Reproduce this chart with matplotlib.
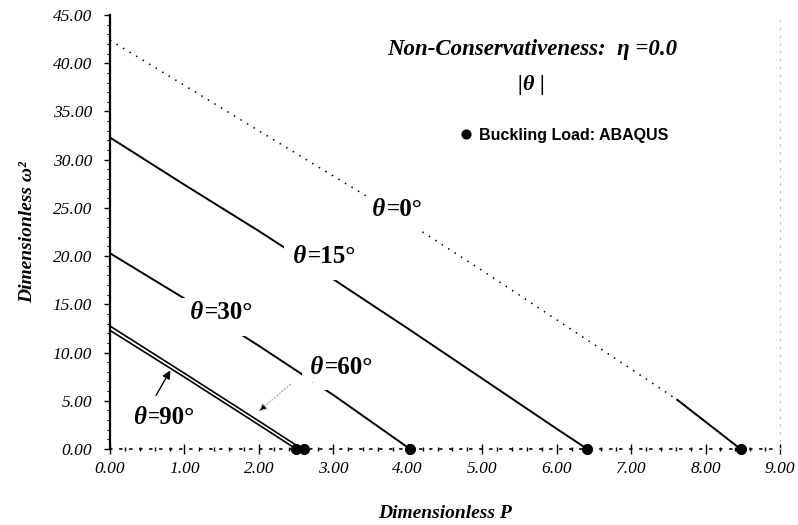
import numpy as np
import matplotlib.pyplot as plt
from matplotlib.ticker import MultipleLocator

# curves: dimensionless P vs dimensionless omega^2
p_0 = [0.0, 1.0, 2.0, 3.0, 3.43, 4.0, 5.0, 6.0, 7.0, 7.62, 8.47]
w_0 = [42.4, 37.7, 33.0, 28.3, 26.3, 23.5, 18.5, 13.4, 8.3, 5.1, 0.0]
p_15 = [0.0, 1.0, 2.0, 3.0, 4.0, 5.0, 6.0, 6.41]
w_15 = [32.3, 27.4, 22.6, 17.6, 12.5, 7.3, 2.1, 0.0]
p_30 = [0.0, 1.0, 2.0, 3.0, 4.03]
w_30 = [20.3, 15.6, 10.7, 5.6, 0.0]
p_60 = [0.0, 1.0, 2.0, 2.58]
w_60 = [12.75, 7.85, 2.9, 0.0]
p_90 = [0.0, 1.0, 2.0, 2.5]
w_90 = [12.3, 7.45, 2.5, 0.0]

# ABAQUS buckling loads
buckling_p = [2.5, 2.6, 4.03, 6.41, 8.47]
buckling_w = [0.0, 0.0, 0.0, 0.0, 0.0]

x_ticks = np.arange(0, 9.01, 1.0)
y_ticks = np.arange(0, 45.01, 5.0)

serif = 'Liberation Serif'
plt.rcParams['font.family'] = serif

fig = plt.figure(figsize=(7.98, 5.25), dpi=100)
ax = fig.add_axes([0.1378, 0.1448, 0.8396, 0.8266])

# theta = 0: dotted, last bit solid
ax.plot(p_0, w_0, color='black', lw=1.1, ls=(0, (1, 4)), zorder=2)
ax.plot(p_0[-2:], w_0[-2:], color='black', lw=1.4, zorder=2)
ax.plot(p_15, w_15, color='black', lw=1.4, zorder=2)
ax.plot(p_30, w_30, color='black', lw=1.4, zorder=2)
ax.plot(p_60, w_60, color='black', lw=1.2, zorder=2)
ax.plot(p_90, w_90, color='black', lw=1.2, zorder=2)

ax.plot(buckling_p, buckling_w, 'o', color='black', ms=7, clip_on=False,
        zorder=5, label='Buckling Load: ABAQUS')

# curve labels: theta italic, rest bold upright; white boxes cut the curve
def curve_label(x, y, txt, pad=4, lead=' '):
    t1 = ax.text(x, y, lead + u'\u03b8', fontsize=18, fontweight='bold',
                 style='italic', ha='left', va='center', zorder=4,
                 bbox=dict(facecolor='white', edgecolor='none', pad=2))
    ax.annotate(txt, xy=(1, 0.5), xycoords=t1, fontsize=18,
                fontweight='bold', ha='left', va='center', zorder=3,
                bbox=dict(facecolor='white', edgecolor='none', pad=pad))

curve_label(3.44, 24.8, '=0\u00b0', pad=7)
curve_label(2.38, 20.0, '=15\u00b0', pad=9)
curve_label(1.0, 14.2, '=30\u00b0', pad=9)
curve_label(2.61, 8.4, '=60\u00b0', pad=8)
curve_label(0.31, 3.3, '=90\u00b0', pad=1, lead='')

# arrows to the 90 and 60 deg curves
ax.annotate('', xy=(0.83, 8.4), xytext=(0.6, 5.3),
            arrowprops=dict(arrowstyle='-|>', color='black', lw=1.0,
                            mutation_scale=12))
ax.annotate('', xy=(1.97, 3.7), xytext=(2.45, 6.9),
            arrowprops=dict(arrowstyle='-|>', color='#aaaaaa', lw=0.9,
                            ls=':', mutation_scale=12, ec='#aaaaaa',
                            fc='black'))

# header texts
ax.text(5.67, 41.4, u'Non-Conservativeness:  \u03b7 =0.0', fontsize=16.5,
        fontweight='bold', style='italic', ha='center', va='center')
ax.text(5.66, 37.7, u'|\u03b8 |', fontsize=16, fontweight='bold',
        style='italic', ha='center', va='center')
leg = ax.legend(loc='center left', bbox_to_anchor=(0.515, 0.723),
                frameon=False, handlelength=0.6, handletextpad=0.5,
                markerscale=0.9, borderaxespad=0,
                prop={'family': 'Liberation Sans', 'weight': 'bold',
                      'size': 11.5})

ax.set_xlim(0, 9)
ax.set_ylim(0, 45)
ax.set_xticks(x_ticks)
ax.set_yticks(y_ticks)
ax.set_xticklabels(['%.2f' % v for v in x_ticks], fontsize=12.5,
                   style='italic')
ax.set_yticklabels(['%.2f' % v for v in y_ticks], fontsize=12.5,
                   style='italic')
ax.xaxis.set_minor_locator(MultipleLocator(0.2))
ax.yaxis.set_minor_locator(MultipleLocator(1.0))
ax.tick_params(axis='x', which='major', direction='inout', length=7,
               width=1.0, pad=5)
ax.tick_params(axis='x', which='minor', direction='inout', length=3,
               width=1.0)
ax.tick_params(axis='y', which='major', direction='out', length=4,
               width=1.0, pad=9)
ax.tick_params(axis='y', which='minor', direction='out', length=2.5,
               width=0.8)

ax.spines['top'].set_visible(False)
ax.spines['right'].set_color('#bbbbbb')
ax.spines['right'].set_linestyle((0, (1, 6)))
ax.spines['right'].set_linewidth(0.8)
ax.spines['bottom'].set_linestyle((0, (1, 5)))
ax.spines['bottom'].set_linewidth(1.2)
ax.spines['left'].set_linewidth(1.6)

ax.set_xlabel('Dimensionless P', fontsize=14, fontweight='bold',
              style='italic', labelpad=20)
ax.set_ylabel(u'Dimensionless \u03c9\u00b2', fontsize=14, fontweight='bold',
              style='italic', labelpad=12)

fig.savefig('out.png', dpi=100)
